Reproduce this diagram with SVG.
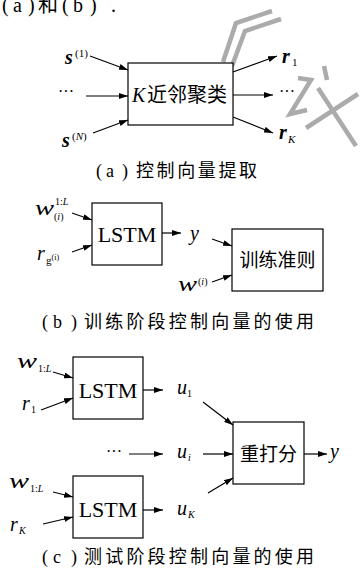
<svg xmlns="http://www.w3.org/2000/svg" width="360" height="571" viewBox="0 0 360 571">
<style>
.box{fill:#fff;stroke:#000;stroke-width:1.2}
.ln{stroke:#000;stroke-width:1.2;fill:none;marker-end:url(#ah)}
.cjk{font-family:"Liberation Serif","Noto Sans CJK SC",serif;fill:#000}
.rm{font-family:"Liberation Serif",serif;fill:#000}
.it{font-family:"Liberation Serif",serif;font-style:italic;fill:#000}
.w{font-family:"Liberation Serif",serif;font-style:italic;fill:#000}
.bi{font-family:"Liberation Serif",serif;font-style:italic;font-weight:bold;fill:#000}
.wm{stroke:#ababab;stroke-width:4.5;fill:none}
</style>
<defs>
<marker id="ah" markerUnits="userSpaceOnUse" markerWidth="9" markerHeight="6" refX="9" refY="3" orient="auto">
<path d="M0,0 L9,3 L0,6 Z" fill="#000"/>
</marker>
</defs>
<rect width="360" height="571" fill="#fff"/>

<text class="cjk" font-size="20" y="12"><tspan x="2">(</tspan><tspan x="13">a</tspan><tspan x="28">)</tspan><tspan x="38">和</tspan><tspan x="62">(</tspan><tspan x="73">b</tspan><tspan x="90">)</tspan><tspan x="111">.</tspan></text>

<g id="watermark">
<polyline class="wm" points="223,62 236,23 272,11"/>
<polyline class="wm" points="232,66 245,31 281,19"/>
<line class="wm" x1="324" y1="66" x2="327" y2="80"/>
<polyline class="wm" points="298,78 311,80 290,114 307,110"/>
<line class="wm" x1="318" y1="88" x2="356" y2="146"/>
<line class="wm" x1="358" y1="94" x2="306" y2="128"/>
</g>

<g id="knn">
<rect class="box" x="128" y="63" width="105" height="62"/>
<text class="it" font-size="20" x="132" y="102">K</text>
<text class="cjk" font-size="20" x="147" y="102">近邻聚类</text>
</g>
<g id="labels-a">
<text class="bi" font-size="20" x="65" y="64">s</text><text class="rm" font-size="11" x="75" y="57">(1)</text>
<text class="rm" font-size="16" x="58" y="97">···</text>
<text class="bi" font-size="20" x="62" y="147">s</text><text class="rm" font-size="11" x="72" y="140">(<tspan font-style="italic">N</tspan>)</text>
<text class="bi" font-size="20" x="282" y="63">r</text><text class="rm" font-size="11" x="292" y="66">1</text>
<text class="rm" font-size="16" x="279" y="97">···</text>
<text class="bi" font-size="20" x="279" y="139">r</text><text class="it" font-size="11" x="288" y="143">K</text>
</g>
<text class="cjk" font-size="18" y="177"><tspan x="96">(</tspan><tspan x="106">a</tspan><tspan x="122">)</tspan><tspan x="136" letter-spacing="2.6">控制向量提取</tspan></text>

<g id="lstm-b">
<rect class="box" x="92" y="203" width="70" height="62"/>
<text class="rm" font-size="22" x="127" y="242" text-anchor="middle">LSTM</text>
</g>
<g id="criterion">
<rect class="box" x="232" y="229" width="91" height="62"/>
<text class="cjk" font-size="19" x="277.5" y="267" text-anchor="middle">训练准则</text>
</g>
<g id="labels-b">
<text class="w" font-size="22" x="35" y="215" textLength="19" lengthAdjust="spacingAndGlyphs">w</text><text class="rm" font-size="10" x="55" y="205">1:<tspan font-style="italic">L</tspan></text><text class="rm" font-size="10" x="54" y="220">(<tspan font-style="italic">i</tspan>)</text>
<text class="it" font-size="20" x="37" y="260">r</text><text class="rm" font-size="11" x="46" y="264">g<tspan font-size="8" dy="-4">(i)</tspan></text>
<text class="it" font-size="20" x="190" y="240">y</text>
<text class="w" font-size="22" x="178" y="291" textLength="19" lengthAdjust="spacingAndGlyphs">w</text><text class="rm" font-size="10" x="198" y="285">(<tspan font-style="italic">i</tspan>)</text>
</g>
<text class="cjk" font-size="18" y="328"><tspan x="42">(</tspan><tspan x="53">b</tspan><tspan x="71">)</tspan><tspan x="84" letter-spacing="3.2">训练阶段控制向量的使用</tspan></text>

<g id="lstm-c1">
<rect class="box" x="73" y="357" width="70" height="62"/>
<text class="rm" font-size="22" x="108" y="398" text-anchor="middle">LSTM</text>
</g>
<g id="lstm-c2">
<rect class="box" x="73" y="476" width="70" height="62"/>
<text class="rm" font-size="22" x="108" y="517" text-anchor="middle">LSTM</text>
</g>
<g id="rescore">
<rect class="box" x="233" y="422" width="71" height="62"/>
<text class="cjk" font-size="19" x="268.5" y="461" text-anchor="middle">重打分</text>
</g>
<g id="labels-c">
<text class="w" font-size="22" x="17" y="368" textLength="20" lengthAdjust="spacingAndGlyphs">w</text><text class="rm" font-size="10" x="38" y="372">1:<tspan font-style="italic">L</tspan></text>
<text class="it" font-size="20" x="22" y="410">r</text><text class="rm" font-size="10" x="31" y="413">1</text>
<text class="it" font-size="20" x="177" y="394">u</text><text class="rm" font-size="10" x="187" y="397">1</text>
<text class="rm" font-size="16" x="106" y="457">···</text>
<text class="it" font-size="20" x="177" y="458">u</text><text class="it" font-size="10" x="188" y="461">i</text>
<text class="it" font-size="20" x="330" y="458">y</text>
<text class="w" font-size="22" x="9" y="488" textLength="20" lengthAdjust="spacingAndGlyphs">w</text><text class="rm" font-size="10" x="30" y="492">1:<tspan font-style="italic">L</tspan></text>
<text class="it" font-size="20" x="10" y="531">r</text><text class="it" font-size="10" x="19" y="534">K</text>
<text class="it" font-size="20" x="177" y="515">u</text><text class="it" font-size="10" x="188" y="518">K</text>
</g>
<text class="cjk" font-size="18" y="563"><tspan x="42">(</tspan><tspan x="53">c</tspan><tspan x="71">)</tspan><tspan x="84" letter-spacing="3.2">测试阶段控制向量的使用</tspan></text>

<g id="connectors">
<line class="ln" x1="90" y1="56" x2="128" y2="70"/>
<line class="ln" x1="86" y1="96" x2="128" y2="96"/>
<line class="ln" x1="93" y1="133" x2="128" y2="120"/>
<line class="ln" x1="233" y1="72" x2="277" y2="56"/>
<line class="ln" x1="233" y1="95" x2="273" y2="95"/>
<line class="ln" x1="233" y1="117" x2="273" y2="133"/>

<line class="ln" x1="72" y1="213" x2="92" y2="220"/>
<line class="ln" x1="72" y1="252" x2="92" y2="245"/>
<line class="ln" x1="162" y1="233" x2="181" y2="233"/>
<line class="ln" x1="212" y1="239" x2="232" y2="246"/>
<line class="ln" x1="212" y1="282" x2="232" y2="275"/>

<line class="ln" x1="53" y1="372" x2="73" y2="378"/>
<line class="ln" x1="41" y1="410" x2="73" y2="398"/>
<line class="ln" x1="143" y1="390" x2="163" y2="390"/>
<line class="ln" x1="203" y1="402" x2="233" y2="425"/>
<line class="ln" x1="129" y1="454" x2="163" y2="454"/>
<line class="ln" x1="203" y1="454" x2="233" y2="454"/>
<line class="ln" x1="304" y1="454" x2="327" y2="454"/>
<line class="ln" x1="208" y1="493" x2="233" y2="478"/>
<line class="ln" x1="53" y1="492" x2="73" y2="497"/>
<line class="ln" x1="43" y1="524" x2="73" y2="517"/>
<line class="ln" x1="143" y1="510" x2="163" y2="510"/>
</g>
</svg>
